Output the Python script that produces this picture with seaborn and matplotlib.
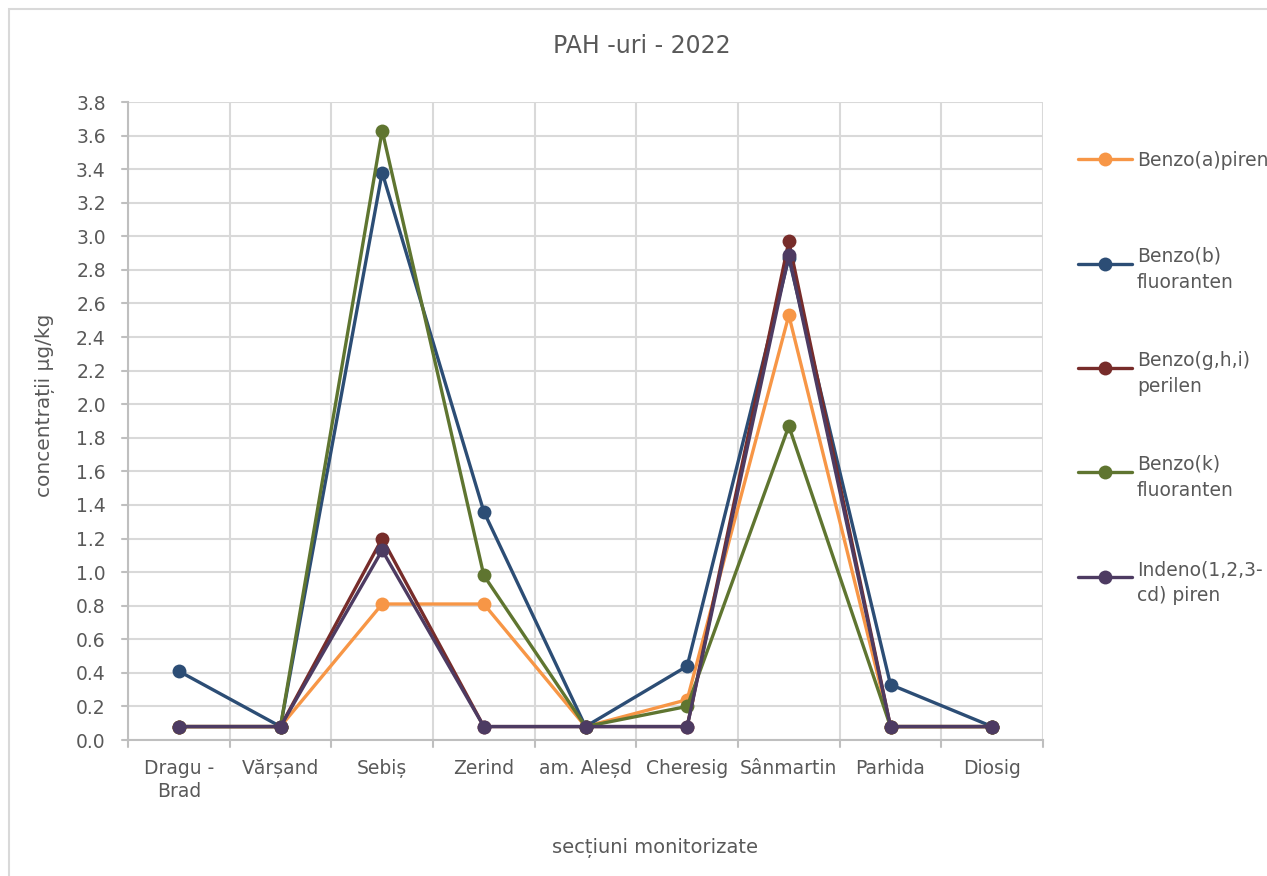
import matplotlib
matplotlib.use("Agg")
import matplotlib.pyplot as plt
from matplotlib.patches import Rectangle
from matplotlib.lines import Line2D
import numpy as np
import pandas as pd
import seaborn as sns

# Monitoring sections (x categories)
sections = ["Dragu -\nBrad", "Vărșand", "Sebiș", "Zerind", "am. Aleșd",
            "Cheresig", "Sânmartin", "Parhida", "Diosig"]

# PAH concentrations, µg/kg
benzo_a_piren = [0.08, 0.08, 0.81, 0.81, 0.08, 0.24, 2.53, 0.08, 0.08]
benzo_b_fluoranten = [0.41, 0.08, 3.38, 1.36, 0.08, 0.44, 2.87, 0.33, 0.08]
benzo_ghi_perilen = [0.08, 0.08, 1.20, 0.08, 0.08, 0.08, 2.97, 0.08, 0.08]
benzo_k_fluoranten = [0.08, 0.08, 3.63, 0.98, 0.08, 0.20, 1.87, 0.08, 0.08]
indeno_piren = [0.08, 0.08, 1.13, 0.08, 0.08, 0.08, 2.89, 0.08, 0.08]

series_names = ["Benzo(a)piren", "Benzo(b)\nfluoranten", "Benzo(g,h,i)\nperilen",
                "Benzo(k)\nfluoranten", "Indeno(1,2,3-\ncd) piren"]
series_values = [benzo_a_piren, benzo_b_fluoranten, benzo_ghi_perilen,
                 benzo_k_fluoranten, indeno_piren]
colors = ["#F79646", "#2C4D75", "#772C2A", "#5F7530", "#4D3B62"]

rows = []
for name, vals in zip(series_names, series_values):
    for i, v in enumerate(vals):
        rows.append({"pos": i, "compus": name, "val": v})
df = pd.DataFrame(rows)

sns.set_theme(style="white")
plt.rcParams["font.family"] = ["DejaVu Sans"]
text_color = "#595959"
grid_color = "#D9D9D9"
axis_color = "#BFBFBF"

W, H = 1267, 876
fig = plt.figure(figsize=(W / 100, H / 100), dpi=100)
fig.patch.set_facecolor("white")
fig.patches.append(Rectangle((9 / W, -0.05), 1.1, 0.05 + 867 / H,
                             transform=fig.transFigure, fill=False,
                             edgecolor="#D9D9D9", linewidth=1.5, zorder=0))

ax = fig.add_axes([128 / W, 1 - 740 / H, (1043 - 128) / W, (740 - 102) / H])

sns.lineplot(data=df, x="pos", y="val", hue="compus", hue_order=series_names,
             palette=colors, marker="o", markersize=10, markeredgewidth=0,
             linewidth=2.4, ax=ax, legend=False, sort=False)

yticks = np.round(np.arange(0, 3.81, 0.2), 1)
ax.set_xlim(-0.5, len(sections) - 0.5)
ax.set_ylim(0, 3.8)
ax.set_yticks(yticks)
ax.set_yticklabels([f"{t:.1f}" for t in yticks], fontsize=13.5, color=text_color)
ax.set_xticks(range(len(sections)))
ax.set_xticklabels(sections, fontsize=13.5, color=text_color, linespacing=1.25)
ax.tick_params(axis="x", length=0, pad=14)
ax.tick_params(axis="y", length=0, pad=16)

# Category boundary grid lines and tick marks
bounds = np.arange(-0.5, len(sections), 1.0)
for b in bounds:
    ax.axvline(b, color=grid_color, linewidth=1.5, zorder=0)
    ax.plot([b, b], [0, -0.04], color=axis_color, linewidth=1.5,
            clip_on=False, zorder=0)
for t in yticks:
    ax.axhline(t, color=grid_color, linewidth=1.5, zorder=0)
    ax.plot([-0.5, -0.56], [t, t], color=axis_color, linewidth=1.5,
            clip_on=False, zorder=0)

for side in ["top", "right"]:
    ax.spines[side].set_visible(False)
for side in ["left", "bottom"]:
    ax.spines[side].set_color(axis_color)
    ax.spines[side].set_linewidth(1.5)
ax.set_xlabel("")
ax.set_ylabel("")

fig.text(642 / W, 1 - 46 / H, "PAH -uri - 2022",
         ha="center", va="center", fontsize=17, color=text_color)
fig.text(655 / W, 1 - 848 / H, "secțiuni monitorizate",
         ha="center", va="center", fontsize=14, color=text_color)
fig.text(45 / W, 1 - 405 / H, "concentrații µg/kg", rotation=90,
         ha="center", va="center", fontsize=14.5, color=text_color)

# Legend: handle on the first line of each label
legend_y = [159, 264, 368, 472, 577]
for name, col, y in zip(series_names, colors, legend_y):
    yf = 1 - y / H
    fig.add_artist(Line2D([1078 / W, 1132 / W], [yf, yf], color=col,
                          linewidth=2.4, transform=fig.transFigure))
    fig.add_artist(Line2D([1105 / W], [yf], color=col, marker="o",
                          markersize=10, markeredgewidth=0,
                          transform=fig.transFigure))
    fig.text(1137 / W, yf, name, ha="left", va="center_baseline",
             fontsize=13.5, color=text_color, linespacing=1.45)

fig.savefig("out.png", dpi=100)
